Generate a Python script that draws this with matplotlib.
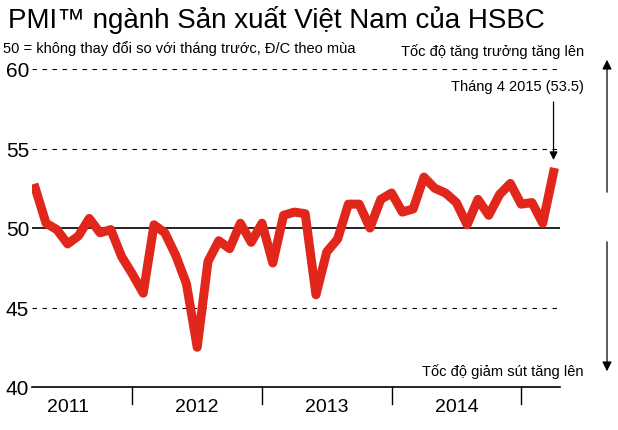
import matplotlib
matplotlib.use("Agg")
import matplotlib.pyplot as plt

plt.rcParams['font.family'] = ['Liberation Sans', 'DejaVu Sans']

# months counted from Jan 2011 (Apr 2011 = 3)
pmi = [52.5, 50.3, 49.9, 49.0, 49.5, 50.6, 49.7, 49.9, 48.2, 47.1, 45.9, 50.2,
       49.7, 48.3, 46.5, 42.5, 47.9, 49.2, 48.7, 50.3, 49.1, 50.3, 47.8, 50.8,
       51.0, 50.9, 45.8, 48.5, 49.3, 51.5, 51.5, 50.0, 51.8, 52.2, 51.0, 51.2,
       53.2, 52.5, 52.2, 51.6, 50.2, 51.8, 50.8, 52.1, 52.8, 51.5, 51.6, 50.3,
       53.5]
months = list(range(3, 3 + len(pmi)))
years = ['2011', '2012', '2013', '2014']
yticks = [40, 45, 50, 55, 60]

W, H = 618, 431
fig = plt.figure(figsize=(W / 100, H / 100), dpi=100)
ax = fig.add_axes([32 / W, 1 - 388 / H, (560 - 32) / W, (388 - 70) / H])
ax.set_xlim(2.7, 51.6)
ax.set_ylim(40, 60)

for v in [45, 55, 60]:
    ax.axhline(v, color='black', lw=0.8, ls=(0, (4, 5)), zorder=1)
ax.axhline(50, color='black', lw=1.2, zorder=1)
ax.plot(months, pmi, color='#e1261c', lw=6.5, solid_joinstyle='round', zorder=3)

for s in ['top', 'right', 'left']:
    ax.spines[s].set_visible(False)
ax.spines['bottom'].set_linewidth(1.2)
ax.set_yticks(yticks)
ax.set_yticklabels([str(v) for v in yticks], fontsize=15)
ax.tick_params(axis='y', length=0, pad=2)
ax.set_xticks([])
for i, y in enumerate(years):
    ax.text(12 * i + 6, -0.035, y, transform=ax.get_xaxis_transform(),
            ha='center', va='top', fontsize=14)
    if i > 0:
        ax.plot([12 * i, 12 * i], [0, -0.055], transform=ax.get_xaxis_transform(),
                color='black', lw=1, clip_on=False)
ax.plot([48, 48], [0, -0.055], transform=ax.get_xaxis_transform(),
        color='black', lw=1, clip_on=False)

fig.text(8 / W, 1 - 20 / H, 'PMI™ ngành Sản xuất Việt Nam của HSBC', fontsize=20,
         va='center', ha='left')
fig.text(3 / W, 1 - 49 / H, '50 = không thay đổi so với tháng trước, Đ/C theo mùa',
         fontsize=10.5, va='center', ha='left')
fig.text(584 / W, 1 - 52 / H, 'Tốc độ tăng trưởng tăng lên', fontsize=10.5,
         va='center', ha='right')
fig.text(584 / W, 1 - 372 / H, 'Tốc độ giảm sút tăng lên', fontsize=10.5,
         va='center', ha='right')
fig.text(584 / W, 1 - 87 / H, 'Tháng 4 2015 (53.5)', fontsize=10.5,
         va='center', ha='right')

ax.annotate('', xy=(51, 54.1), xytext=(51, 58.1),
            arrowprops=dict(arrowstyle='-|>', color='black', lw=0.9,
                            mutation_scale=12))
fig.add_artist(matplotlib.patches.FancyArrowPatch(
    (607 / W, 1 - 196 / H), (607 / W, 1 - 58 / H), transform=fig.transFigure,
    arrowstyle='-|>', mutation_scale=14, color='black', lw=0.9))
fig.add_artist(matplotlib.patches.FancyArrowPatch(
    (607 / W, 1 - 240 / H), (607 / W, 1 - 375 / H), transform=fig.transFigure,
    arrowstyle='-|>', mutation_scale=14, color='black', lw=0.9))

fig.savefig('out.png', dpi=100, facecolor='white')
